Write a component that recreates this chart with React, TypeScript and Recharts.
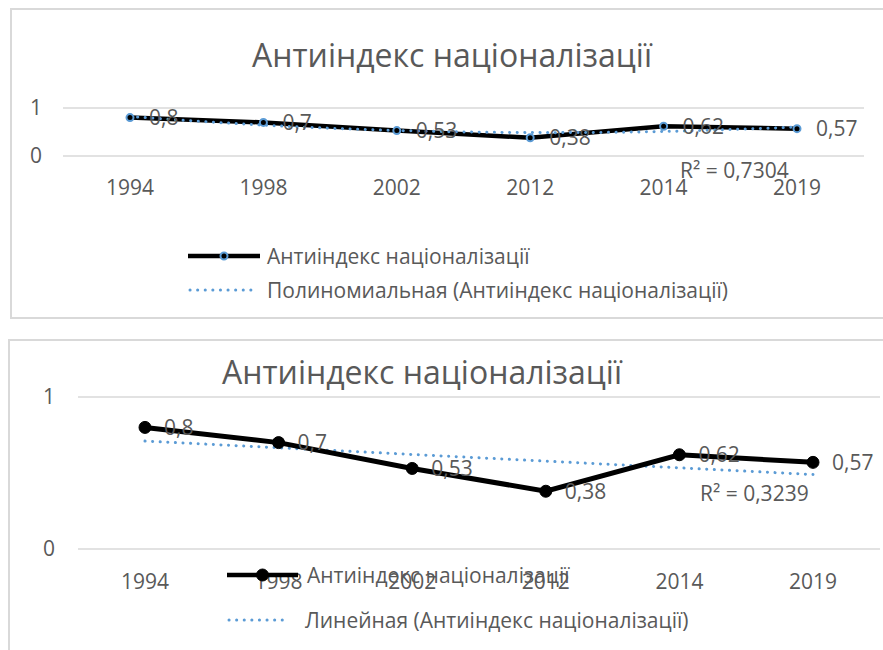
import { LineChart, Line, XAxis, YAxis, CartesianGrid, LabelList } from "recharts"

// values (same series, different trendlines)
const years = ["1994", "1998", "2002", "2012", "2014", "2019"]
const antiIndex = [0.8, 0.7, 0.53, 0.38, 0.62, 0.57]
// fitted values of the trendlines at each category
const polyTrend = [0.8225, 0.6435, 0.532, 0.488, 0.5115, 0.6025]
const linearTrend = [0.71, 0.666, 0.622, 0.578, 0.534, 0.49]
const yTicks = [0, 1]

const seriesName = "Антиіндекс націоналізації"
const polyName = "Полиномиальная (Антиіндекс націоналізації)"
const linearName = "Линейная (Антиіндекс націоналізації)"
const polyR2 = "R² = 0,7304"
const linearR2 = "R² = 0,3239"

const topData = years.map((year, i) => ({ year, value: antiIndex[i], trend: polyTrend[i] }))
const bottomData = years.map((year, i) => ({ year, value: antiIndex[i], trend: linearTrend[i] }))

const FONT = "'Open Sans', 'Noto Sans', sans-serif"
const TEXT = "#595959"
const GRID = "#d9d9d9"
const BLUE = "#5b9bd5"

const fmt = (v: any) => String(v).replace(".", ",")

const tickStyle = { fill: TEXT, fontSize: 21, fontFamily: FONT }

function Title({ cx, cy, size }: { cx: number; cy: number; size: number }) {
  return (
    <div
      style={{
        position: "absolute",
        left: cx - 300,
        top: cy - 25,
        width: 600,
        height: 50,
        lineHeight: "50px",
        textAlign: "center",
        fontSize: size,
        fontFamily: FONT,
        color: TEXT,
        whiteSpace: "nowrap",
      }}
    >
      {seriesName}
    </div>
  )
}

function TextAt({ x, cy, text }: { x: number; cy: number; text: string }) {
  return (
    <div
      style={{
        position: "absolute",
        left: x,
        top: cy - 15,
        height: 30,
        lineHeight: "30px",
        fontSize: 21,
        fontFamily: FONT,
        color: TEXT,
        whiteSpace: "nowrap",
      }}
    >
      {text}
    </div>
  )
}

function SeriesIcon({ x, cy, width, r, ring }: { x: number; cy: number; width: number; r: number; ring: boolean }) {
  return (
    <svg style={{ position: "absolute", left: x, top: cy - 10 }} width={width} height={20}>
      <line x1={0} y1={10} x2={width} y2={10} stroke="#000" strokeWidth={4.5} strokeLinecap="round" />
      <circle
        cx={width / 2}
        cy={10}
        r={r}
        fill="#000"
        stroke={ring ? BLUE : "#000"}
        strokeWidth={ring ? 2 : 1}
      />
    </svg>
  )
}

function TrendIcon({ x, cy, width }: { x: number; cy: number; width: number }) {
  return (
    <svg style={{ position: "absolute", left: x, top: cy - 10 }} width={width} height={20}>
      <line
        x1={2}
        y1={10}
        x2={width - 2}
        y2={10}
        stroke={BLUE}
        strokeWidth={3}
        strokeDasharray="0.1 7.5"
        strokeLinecap="round"
      />
    </svg>
  )
}

export default function App() {
  return (
    <div
      style={{
        position: "absolute",
        left: 0,
        top: 0,
        width: 883,
        height: 650,
        overflow: "hidden",
        background: "#fff",
      }}
    >
      {/* top chart: polynomial trendline */}
      <div
        style={{
          position: "absolute",
          left: 10,
          top: 8,
          width: 900,
          height: 311,
          border: `2px solid ${GRID}`,
          boxSizing: "border-box",
        }}
      />
      <div style={{ position: "absolute", left: 0, top: 0 }}>
        <LineChart width={883} height={330} data={topData} margin={{ top: 108, right: 19, bottom: 134, left: 23 }}>
          <CartesianGrid vertical={false} stroke={GRID} strokeWidth={1.5} />
          <XAxis
            dataKey="year"
            axisLine={false}
            tickLine={false}
            tickSize={0}
            tickMargin={24}
            height={40}
            interval={0}
            padding={{ left: 67, right: 67 }}
            tick={tickStyle}
          />
          <YAxis
            domain={[0, 1]}
            ticks={yTicks}
            axisLine={false}
            tickLine={false}
            tickSize={0}
            tickMargin={21}
            width={40}
            tick={tickStyle}
          />
          <Line
            dataKey="value"
            name={seriesName}
            stroke="#000"
            strokeWidth={4.5}
            dot={{ r: 3.5, fill: "#000", stroke: BLUE, strokeWidth: 2 }}
            isAnimationActive={false}
          >
            <LabelList dataKey="value" position="right" offset={19} formatter={fmt} fill={TEXT} fontSize={21} fontFamily={FONT} />
          </Line>
          <Line
            dataKey="trend"
            name={polyName}
            type="natural"
            stroke={BLUE}
            strokeWidth={3}
            strokeDasharray="0.1 7.5"
            strokeLinecap="round"
            dot={false}
            isAnimationActive={false}
          />
        </LineChart>
      </div>
      <Title cx={452} cy={55} size={32} />
      <TextAt x={680} cy={170} text={polyR2} />
      <SeriesIcon x={188} cy={256} width={72} r={3.5} ring />
      <TextAt x={267} cy={256} text={seriesName} />
      <TrendIcon x={188} cy={290} width={66} />
      <TextAt x={267} cy={290} text={polyName} />

      {/* bottom chart: linear trendline */}
      <div
        style={{
          position: "absolute",
          left: 8,
          top: 339,
          width: 900,
          height: 330,
          border: `2px solid ${GRID}`,
          boxSizing: "border-box",
        }}
      />
      <div style={{ position: "absolute", left: 0, top: 330 }}>
        <LineChart width={883} height={320} data={bottomData} margin={{ top: 67, right: 3, bottom: 61, left: 38 }}>
          <CartesianGrid vertical={false} stroke={GRID} strokeWidth={1.5} />
          <XAxis
            dataKey="year"
            axisLine={false}
            tickLine={false}
            tickSize={0}
            tickMargin={25}
            height={40}
            interval={0}
            padding={{ left: 67, right: 67 }}
            tick={tickStyle}
          />
          <YAxis
            domain={[0, 1]}
            ticks={yTicks}
            axisLine={false}
            tickLine={false}
            tickSize={0}
            tickMargin={23}
            width={40}
            tick={tickStyle}
          />
          <Line
            dataKey="trend"
            name={linearName}
            type="linear"
            stroke={BLUE}
            strokeWidth={3}
            strokeDasharray="0.1 7.5"
            strokeLinecap="round"
            dot={false}
            isAnimationActive={false}
          />
          <Line
            dataKey="value"
            name={seriesName}
            stroke="#000"
            strokeWidth={5}
            dot={{ r: 6, fill: "#000", stroke: "#000", strokeWidth: 1 }}
            isAnimationActive={false}
          >
            <LabelList dataKey="value" position="right" offset={19} formatter={fmt} fill={TEXT} fontSize={21} fontFamily={FONT} />
          </Line>
        </LineChart>
      </div>
      <Title cx={422} cy={372} size={32} />
      <TextAt x={700} cy={493} text={linearR2} />
      <SeriesIcon x={227} cy={575} width={71} r={6} ring={false} />
      <TextAt x={307} cy={575} text={seriesName} />
      <TrendIcon x={227} cy={620} width={64} />
      <TextAt x={305} cy={620} text={linearName} />
    </div>
  )
}
